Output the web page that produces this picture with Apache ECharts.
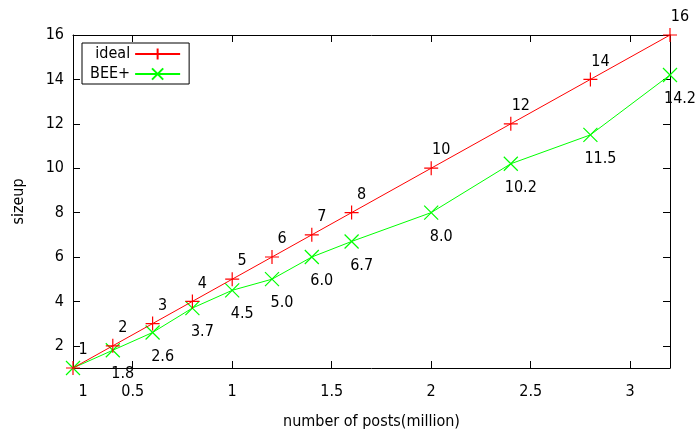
<!DOCTYPE html>
<html>
<head>
<meta charset="utf-8">
<script src="https://cdn.jsdelivr.net/npm/echarts@6/dist/echarts.min.js"></script>
<style>
  html, body { margin: 0; padding: 0; background: #fff; }
  #main { width: 695px; height: 431px; }
</style>
</head>
<body>
<div id="main"></div>
<script>
// posts (million) on x, sizeup on y
const posts = [0.2, 0.4, 0.6, 0.8, 1.0, 1.2, 1.4, 1.6, 2.0, 2.4, 2.8, 3.2];
const ideal = [1, 2, 3, 4, 5, 6, 7, 8, 10, 12, 14, 16];
const bee = [1, 1.8, 2.6, 3.7, 4.5, 5.0, 6.0, 6.7, 8.0, 10.2, 11.5, 14.2];
const xTicks = [0.5, 1, 1.5, 2, 2.5, 3];
const yTicks = [2, 4, 6, 8, 10, 12, 14, 16];

const font = '"DejaVu Sans Condensed", "DejaVu Sans"';
const fs = 16;
const plus = 'path://M0,5L10,5M5,0L5,10';
const cross = 'path://M0,0L10,10M10,0L0,10';

const chart = echarts.init(document.getElementById('main'));

const axisLine = { lineStyle: { color: '#000', width: 1 } };

chart.setOption({
  animation: false,
  textStyle: { fontFamily: font },
  grid: { left: 73, right: 25, top: 35, bottom: 63, outerBoundsMode: 'none', containLabel: false },
  legend: {
    orient: 'vertical',
    left: 82,
    top: 43,
    align: 'right',
    padding: [3, 8, 2, 8],
    itemGap: 4,
    itemWidth: 45,
    itemHeight: 14,
    borderColor: '#000',
    borderWidth: 1,
    textStyle: { fontFamily: font, fontSize: fs, lineHeight: 16, color: '#000', width: 40, align: 'right' },
    data: ['ideal', 'BEE+']
  },
  xAxis: [{
    type: 'value',
    min: 0.2,
    max: 3.2,
    name: 'number of posts(million)',
    nameLocation: 'middle',
    nameGap: 46,
    nameTextStyle: { fontFamily: font, fontSize: fs, color: '#000' },
    axisLine: axisLine,
    axisTick: { inside: true, length: 7, customValues: xTicks, lineStyle: { color: '#000' } },
    axisLabel: { customValues: xTicks, fontFamily: font, fontSize: fs, color: '#000', margin: 16 },
    splitLine: { show: false }
  }, {
    type: 'value',
    position: 'top',
    min: 0.2,
    max: 3.2,
    axisLine: axisLine,
    axisTick: { inside: true, length: 7, customValues: xTicks, lineStyle: { color: '#000' } },
    axisLabel: { show: false },
    splitLine: { show: false }
  }],
  yAxis: [{
    type: 'value',
    min: 1,
    max: 16,
    name: 'sizeup',
    nameLocation: 'middle',
    nameGap: 46,
    nameTextStyle: { fontFamily: font, fontSize: fs, color: '#000' },
    axisLine: axisLine,
    axisTick: { show: true, inside: true, length: 7, customValues: yTicks, lineStyle: { color: '#000' } },
    axisLabel: { customValues: yTicks, fontFamily: font, fontSize: fs, color: '#000', margin: 9 },
    splitLine: { show: false }
  }, {
    type: 'value',
    position: 'right',
    min: 1,
    max: 16,
    axisLine: { show: true, lineStyle: { color: '#000', width: 1 } },
    axisTick: { show: true, inside: true, length: 7, customValues: yTicks, lineStyle: { color: '#000' } },
    axisLabel: { show: false },
    splitLine: { show: false }
  }],
  series: [{
    name: 'ideal',
    type: 'line',
    data: posts.map((x, i) => [x, ideal[i]]),
    symbol: plus,
    symbolSize: 14,
    lineStyle: { color: '#ff0000', width: 1 },
    itemStyle: { color: '#ff0000', borderColor: '#ff0000', borderWidth: 1.2 },
    label: {
      show: true,
      position: 'inside',
      offset: [10, -18],
      fontFamily: font,
      fontSize: fs,
      color: '#000',
      formatter: p => String(p.value[1])
    },
    z: 3
  }, {
    name: 'BEE+',
    type: 'line',
    data: posts.map((x, i) => [x, bee[i]]),
    symbol: cross,
    symbolSize: 14,
    lineStyle: { color: '#00ff00', width: 1 },
    itemStyle: { color: '#00ff00', borderColor: '#00ff00', borderWidth: 1.2 },
    label: {
      show: true,
      position: 'inside',
      offset: [10, 24],
      fontFamily: font,
      fontSize: fs,
      color: '#000',
      formatter: p => (p.dataIndex === 0 ? '1' : p.value[1].toFixed(1))
    },
    z: 2
  }]
});
</script>
</body>
</html>
